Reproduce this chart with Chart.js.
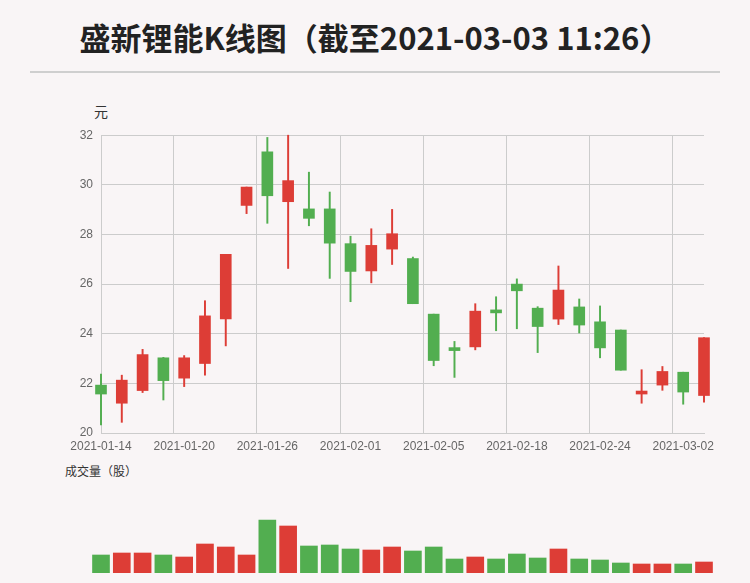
<!DOCTYPE html>
<html>
<head>
<meta charset="utf-8">
<script src="https://cdn.jsdelivr.net/npm/chart.js@4/dist/chart.umd.min.js"></script>
<style>
  body { margin: 0; background: #f9f5f6; font-family: "Noto Sans CJK SC", sans-serif; }
  #page { position: relative; width: 750px; height: 583px; overflow: hidden; }
  #title { position: absolute; left: 0; top: 14px; width: 750px; text-align: center; font-size: 31px; font-weight: bold; color: #222; }
  #rule { position: absolute; left: 30px; top: 71px; width: 690px; height: 2px; background: #cfcfcf; }
  .lbl { position: absolute; font-size: 13px; color: #333; }
  .box { position: absolute; left: 0; width: 750px; }
</style>
</head>
<body>
<div id="page">
  <div id="title">盛新锂能K线图（截至2021-03-03 11:26）</div>
  <div id="rule"></div>
  <div class="lbl" style="left:94px;top:101px;font-size:14px;">元</div>
  <div class="lbl" style="left:65px;top:462px;font-size:12px;">成交量（股）</div>
  <div class="box" style="top:120px;height:343px;"><canvas id="kChart"></canvas></div>
  <div class="box" style="top:480px;height:93px;"><canvas id="volChart"></canvas></div>
</div>
<script>
// 交易日
const dates = ["2021-01-14","2021-01-15","2021-01-18","2021-01-19","2021-01-20","2021-01-21","2021-01-22",
  "2021-01-25","2021-01-26","2021-01-27","2021-01-28","2021-01-29","2021-02-01","2021-02-02","2021-02-03",
  "2021-02-04","2021-02-05","2021-02-08","2021-02-09","2021-02-10","2021-02-18","2021-02-19","2021-02-22",
  "2021-02-23","2021-02-24","2021-02-25","2021-02-26","2021-03-01","2021-03-02","2021-03-03"];
const openPrices  = [21.93,21.20,21.71,23.03,22.21,22.80,24.60,29.17,31.33,29.32,29.03,29.03,27.63,26.53,27.41,
  27.03,24.79,23.40,23.47,24.92,26.00,25.03,24.59,25.08,24.48,24.15,21.57,21.93,22.45,21.51];
const closePrices = [21.57,22.13,23.16,22.11,23.03,24.72,27.20,29.91,29.56,30.17,28.65,27.65,26.51,27.56,28.03,
  25.21,22.92,23.32,24.91,24.84,25.73,24.29,25.76,24.35,23.43,22.53,21.64,22.48,21.65,23.84];
const highPrices  = [22.37,22.33,23.37,23.05,23.12,25.33,27.20,29.91,31.91,32.00,30.51,29.71,27.93,28.23,29.01,
  27.09,24.79,23.69,25.21,25.49,26.21,25.09,26.73,25.40,25.12,24.15,22.55,22.68,22.45,23.84];
const lowPrices   = [20.33,20.43,21.63,21.33,21.87,22.33,23.51,28.84,28.45,26.63,28.35,26.23,25.29,26.05,26.79,
  25.21,22.71,22.24,23.35,24.12,24.20,23.24,24.37,24.03,23.03,22.53,21.20,21.72,21.16,21.24];
const volumes = [180000,200000,200000,180000,160000,290000,260000,180000,530000,470000,270000,280000,240000,230000,260000,
  220000,260000,140000,160000,140000,190000,150000,240000,140000,130000,100000,90000,90000,90000,110000];
const yTicks = [20, 22, 24, 26, 28, 30, 32];

const RED = "#dd3d36", GREEN = "#52ae50";
const colors = openPrices.map((o, i) => closePrices[i] >= o ? RED : GREEN);
const fontFamily = "'Liberation Sans', Arial, sans-serif";

const kChart = new Chart(document.getElementById("kChart"), {
  type: "bar",
  data: {
    labels: dates,
    datasets: [{
      data: dates.map((d, i) => [openPrices[i], closePrices[i]]),
      backgroundColor: colors,
      barThickness: 11,
      minBarLength: 3,
      grouped: false,
      clip: false,
      order: 1
    }, {
      data: dates.map((d, i) => [lowPrices[i], highPrices[i]]),
      backgroundColor: colors,
      barThickness: 1.3,
      grouped: false,
      clip: false,
      order: 2
    }]
  },
  options: {
    responsive: true,
    maintainAspectRatio: false,
    animation: false,
    layout: { padding: { left: 0, right: 46, top: 13, bottom: 0 } },
    plugins: { legend: { display: false }, tooltip: { enabled: false } },
    scales: {
      x: {
        offset: false,
        afterFit: (s) => { s.height = 30; },
        grid: {
          color: (c) => c.index % 4 === 0 && c.index > 0 ? "#cccccc" : "transparent",
          tickLength: 0
        },
        border: { display: true, color: "#cccccc" },
        ticks: {
          autoSkip: false, maxRotation: 0, color: "#666", padding: 6,
          font: { family: fontFamily, size: 12 },
          callback: (v, i) => i % 4 === 0 ? dates[i] : ""
        }
      },
      y: {
        min: 20, max: 32,
        afterFit: (s) => { s.width = 101; },
        afterBuildTicks: (s) => { s.ticks = yTicks.map(v => ({ value: v })); },
        grid: { color: "#cccccc", tickLength: 0 },
        border: { color: "#cccccc", dash: [] },
        ticks: { color: "#666", padding: 8, font: { family: fontFamily, size: 12 } }
      }
    }
  },
  plugins: [{
    id: "dashGrid",
    beforeDraw(chart) {
      chart.options.scales.x.grid.borderDash = [3, 3];
    }
  }]
});
kChart.options.scales.x.border.dash = [];
kChart.options.scales.x.grid.dash = [3, 3];
kChart.options.scales.y.grid.dash = [3, 3];
kChart.update();

new Chart(document.getElementById("volChart"), {
  type: "bar",
  data: {
    labels: dates,
    datasets: [{
      data: volumes,
      backgroundColor: colors,
      barThickness: 17,
      clip: false
    }]
  },
  options: {
    responsive: true,
    maintainAspectRatio: false,
    animation: false,
    layout: { padding: { left: 101, right: 46, top: 0, bottom: 0 } },
    plugins: { legend: { display: false }, tooltip: { enabled: false } },
    scales: {
      x: { display: false, offset: false },
      y: { display: false, min: 0, max: 930000 }
    }
  }
});
</script>
</body>
</html>
